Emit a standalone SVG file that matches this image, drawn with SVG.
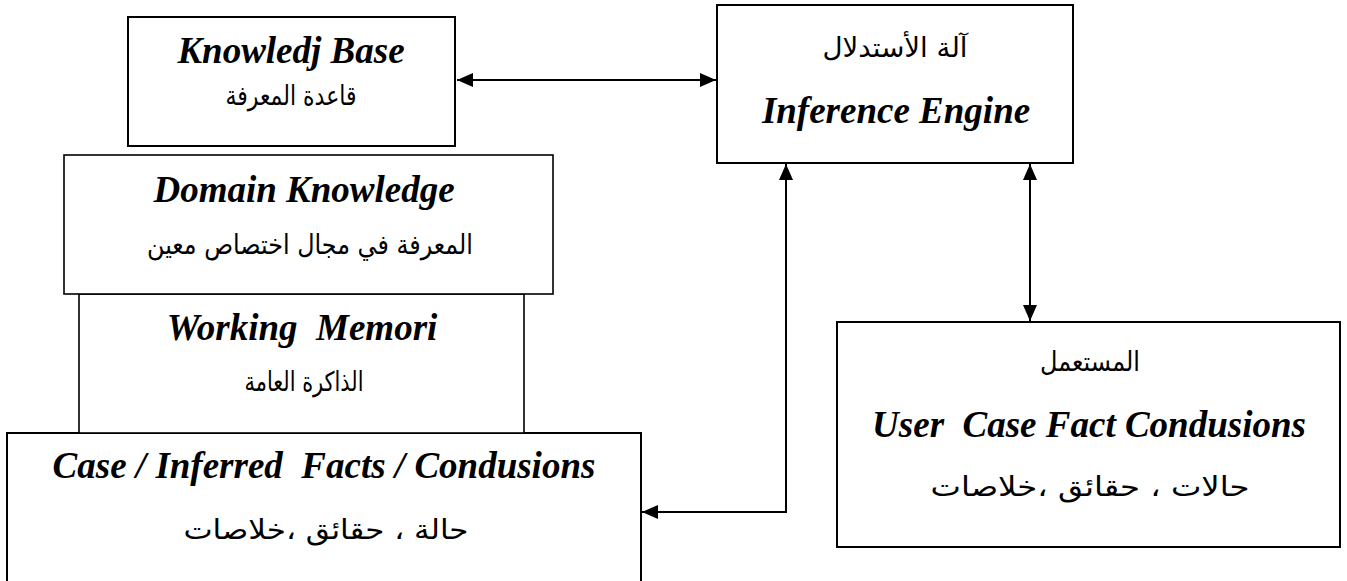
<svg xmlns="http://www.w3.org/2000/svg" width="1347" height="581" viewBox="0 0 1347 581">
<style>
.box{fill:#fff;stroke:#000;stroke-width:2}
.thin{fill:#fff;stroke:#000;stroke-width:1.6}
.en{font-family:"Liberation Serif","Times New Roman",serif;font-weight:bold;font-style:italic;font-size:37px;fill:#000;text-anchor:middle;white-space:pre}
.ar{font-family:"DejaVu Sans",sans-serif;font-size:27px;fill:#000;text-anchor:middle;direction:rtl}
.con{fill:none;stroke:#000;stroke-width:2}
</style>
<defs>
<marker id="ah" viewBox="0 0 16 14" refX="16" refY="7" markerWidth="16" markerHeight="14" markerUnits="userSpaceOnUse" orient="auto-start-reverse">
<path d="M0,0 L16,7 L0,14 z" fill="#000"/>
</marker>
</defs>
<g id="case">
<rect class="box" x="7" y="433" width="634" height="160"/>
<text class="en" x="324" y="478" xml:space="preserve">Case / Inferred  Facts / Condusions</text>
<text class="ar" x="326" y="539" textLength="285" lengthAdjust="spacingAndGlyphs">حالة ، حقائق ،خلاصات</text>
</g>
<g id="working">
<rect class="thin" x="79" y="294" width="445" height="139"/>
<text class="en" x="302" y="340" xml:space="preserve">Working  Memori</text>
<text class="ar" x="304" y="391" textLength="119" lengthAdjust="spacingAndGlyphs">الذاكرة العامة</text>
</g>
<g id="domain">
<rect class="thin" x="64" y="155" width="489" height="139"/>
<text class="en" x="304" y="202">Domain Knowledge</text>
<text class="ar" x="310" y="254" textLength="326" lengthAdjust="spacingAndGlyphs">المعرفة في مجال اختصاص معين</text>
</g>
<g id="kb">
<rect class="box" x="128" y="17" width="327" height="129"/>
<text class="en" x="291" y="63">Knowledj Base</text>
<text class="ar" x="291" y="105" textLength="131" lengthAdjust="spacingAndGlyphs">قاعدة المعرفة</text>
</g>
<g id="inference">
<rect class="box" x="717" y="5" width="356" height="158"/>
<text class="ar" x="895" y="57" textLength="145" lengthAdjust="spacingAndGlyphs">آلة الأستدلال</text>
<text class="en" x="896" y="123">Inference Engine</text>
</g>
<g id="user">
<rect class="box" x="837" y="322" width="503" height="225"/>
<text class="ar" x="1090" y="371" textLength="100" lengthAdjust="spacingAndGlyphs">المستعمل</text>
<text class="en" x="1089" y="437" xml:space="preserve">User  Case Fact Condusions</text>
<text class="ar" x="1090" y="496" textLength="319" lengthAdjust="spacingAndGlyphs">حالات ، حقائق ،خلاصات</text>
</g>
<g id="connectors">
<line class="con" x1="457" y1="80" x2="716" y2="80" marker-start="url(#ah)" marker-end="url(#ah)"/>
<polyline class="con" points="642,512 786,512 786,164" marker-start="url(#ah)" marker-end="url(#ah)"/>
<line class="con" x1="1030" y1="164" x2="1030" y2="321" marker-start="url(#ah)" marker-end="url(#ah)"/>
</g>
</svg>
